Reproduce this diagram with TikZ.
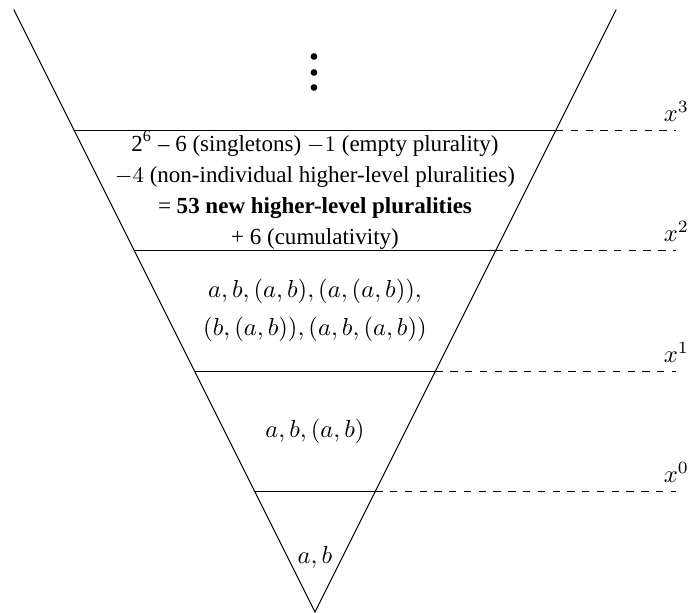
\documentclass[tikz,border=0pt]{standalone}
\usepackage[no-math]{fontspec}
\setmainfont{Liberation Serif}
\usepackage{amsmath}
\usetikzlibrary{positioning}

\begin{document}
\begin{tikzpicture}[x=1.72cm, y=1.72cm,
    level/.style={thin},
    guide/.style={thin, dashed},
    layer/.style={align=center, inner sep=0pt}]
        % Rahmen festlegen
        \useasboundingbox (-2.614,-0.008) rectangle (3.104,5.079);

        % Kegel
        \coordinate (apex) at (0,0);
        \coordinate (tl) at (-2.5,5);
        \coordinate (tr) at (2.5,5);
        \draw (tl) -- (apex) -- (tr);

        % Ebenen x^0 bis x^3
        \foreach \k [evaluate=\k as \e using int(\k-1)] in {1,...,4} {
            \coordinate (l\k) at (-\k/2,\k);
            \coordinate (r\k) at (\k/2,\k);
            \coordinate (e\k) at (3,\k);
            \draw[level] (l\k) -- (r\k);
            \draw[guide] (r\k) -- (e\k);
            \node[above] (lab\k) at (e\k) {$x^{\e}$};
        }

        % Inhalte der Schichten
        \node[layer] (s0) at (0,0.45) {$a,b$};
        \node[layer] (s1) at (0,1.5) {$a,b,(a,b)$};
        \node[layer, font=\fontsize{10}{15.5}\selectfont] (s2) at (0,2.5)
            {$a,b,(a,b),(a,(a,b)),$\\ $(b,(a,b)),(a,b,(a,b))$};
        \node[layer, font=\fontsize{9.35}{12.6}\selectfont] (s3) at (0,3.5)
            {2\textsuperscript{6} -- 6 (singletons) $-1$ (empty plurality)\\
             $-4$ (non-individual higher-level pluralities)\\
             = \textbf{53 new higher-level pluralities}\\
             + 6 (cumulativity)};
        \node[scale=1.575, font=\Large] (dots) at (0,4.57) {$\vdots$};
\end{tikzpicture}
\end{document}
